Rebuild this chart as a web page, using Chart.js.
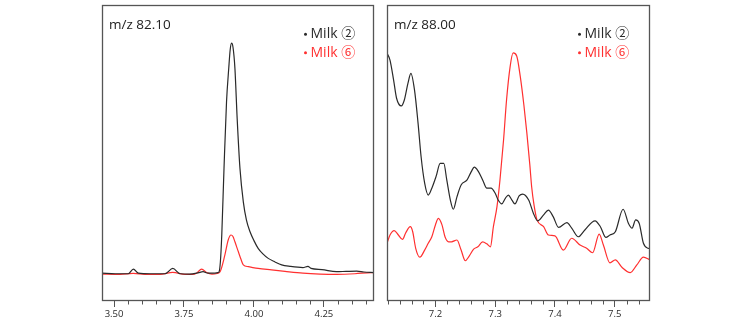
<!DOCTYPE html>
<html>
<head>
<meta charset="utf-8">
<script src="https://cdn.jsdelivr.net/npm/chart.js@4.4.1/dist/chart.umd.min.js"></script>
<style>
  html, body { margin:0; padding:0; background:#fff; }
  body { width:754px; height:322px; position:relative; overflow:hidden; }
  canvas { position:absolute; }
</style>
</head>
<body>
<canvas id="left" width="274" height="318" style="left:101px;top:4px;"></canvas>
<canvas id="right" width="265" height="318" style="left:386px;top:4px;"></canvas>
<script>
// ---------- DATA ----------
const leftTitle = "m/z 82.10";
const rightTitle = "m/z 88.00";
const seriesNames = ["Milk ②", "Milk ⑥"];

// Left panel (retention time, relative intensity)
const leftBlackX = [3.457,3.504,3.551,3.569,3.587,3.629,3.682,3.710,3.736,3.771,3.800,3.818,3.836,3.857,3.871,3.875,3.880,3.885,3.893,3.902,3.910,3.915,3.920,3.925,3.932,3.940,3.950,3.962,3.973,3.986,4.000,4.015,4.032,4.051,4.075,4.099,4.129,4.175,4.193,4.204,4.243,4.295,4.329,4.367,4.393,4.429];
const leftBlackY = [9.4,9.2,9.2,10.8,9.4,9.2,9.2,11.0,9.2,9.1,9.5,9.9,9.4,9.4,9.6,9.8,13.2,22.3,44.8,67.3,78.7,84.8,87.1,85.8,78.6,61.7,44.8,33.5,27.4,23.4,20.4,17.8,15.9,14.4,13.2,12.2,11.7,11.3,11.7,11.0,10.6,9.9,10.0,10.1,9.8,9.6];
const leftRedX = [3.457,3.521,3.568,3.611,3.664,3.710,3.754,3.779,3.795,3.813,3.831,3.850,3.868,3.879,3.896,3.908,3.918,3.925,3.932,3.944,3.954,3.962,3.980,3.996,4.015,4.063,4.111,4.175,4.236,4.295,4.361,4.420,4.429];
const leftRedY = [9.1,9.0,9.3,9.0,9.0,9.7,9.0,9.0,9.4,10.8,9.6,9.1,9.3,9.9,15.5,20.6,22.3,21.8,20.0,16.7,14.0,12.2,11.6,11.3,11.0,10.5,10.0,9.4,9.1,9.0,9.2,9.6,9.6];

// Right panel
const rightBlackX = [7.119,7.124,7.130,7.135,7.143,7.148,7.154,7.159,7.165,7.171,7.176,7.182,7.188,7.194,7.201,7.208,7.214,7.219,7.225,7.230,7.236,7.243,7.253,7.260,7.265,7.272,7.279,7.286,7.293,7.300,7.305,7.311,7.317,7.322,7.328,7.333,7.340,7.346,7.356,7.364,7.371,7.381,7.389,7.397,7.406,7.420,7.428,7.439,7.450,7.467,7.476,7.485,7.492,7.501,7.514,7.523,7.529,7.535,7.541,7.548,7.556,7.559];
const rightBlackY = [83.7,81.4,74.7,68.5,65.9,67.9,73.5,76.9,71.3,60.0,48.8,39.8,35.8,38.1,42.0,46.5,46.5,40.9,34.1,31.0,35.2,39.2,40.9,43.7,45.2,43.7,40.9,38.1,38.1,36.4,34.1,32.8,34.7,35.8,34.1,32.8,35.5,36.1,34.1,29.6,27.1,29.1,30.7,28.5,24.9,26.5,24.6,21.7,24.0,27.1,25.1,21.5,22.3,23.4,31.0,26.2,24.6,27.4,26.2,19.5,17.8,17.7];
const rightRedX = [7.119,7.124,7.131,7.138,7.145,7.150,7.158,7.162,7.167,7.174,7.182,7.188,7.194,7.200,7.205,7.211,7.216,7.222,7.227,7.236,7.243,7.250,7.256,7.264,7.271,7.279,7.286,7.292,7.297,7.303,7.308,7.314,7.319,7.325,7.330,7.336,7.342,7.348,7.353,7.358,7.361,7.365,7.370,7.381,7.389,7.400,7.414,7.428,7.442,7.453,7.463,7.474,7.481,7.492,7.501,7.512,7.526,7.537,7.548,7.559];
const rightRedY = [19.5,22.3,23.8,22.3,20.8,22.9,25.1,23.4,17.8,14.8,17.2,19.5,21.7,25.7,27.9,25.7,21.7,20.0,20.0,20.6,17.2,13.6,15.0,17.5,18.3,20.0,19.3,18.3,25.1,31.9,40.9,54.4,67.9,79.2,83.8,82.8,75.8,66.2,56.7,45.9,38.6,32.4,27.4,25.1,22.3,22.0,17.2,21.2,18.9,17.8,16.3,22.6,18.9,12.9,13.9,11.4,9.6,12.2,14.8,13.9];

// Axis settings
const leftRange = [3.457, 4.429];
const rightRange = [7.119, 7.559];
const leftMajorStep = 0.25, leftMinorStep = 0.05, leftDecimals = 2;
const rightMajorStep = 0.1, rightMinorStep = 0.02, rightDecimals = 1;

// ---------- STYLE ----------
const BLACK = '#2a2a2a';
const RED = '#ff3030';
const AXIS = '#555';

function pts(xs, ys) { return xs.map((x, i) => ({ x: x, y: ys[i] })); }

const decoPlugin = {
  id: 'panelDeco',
  afterDraw(chart, args, opts) {
    const ctx = chart.ctx;
    const a = chart.chartArea;
    const sx = chart.scales.x;
    ctx.save();
    // frame
    ctx.strokeStyle = AXIS;
    ctx.lineWidth = 1.3;
    ctx.strokeRect(Math.round(a.left) + 0.5, Math.round(a.top) + 0.5,
                   Math.round(a.right - a.left) - 1, Math.round(a.bottom - a.top) - 1);
    // minor ticks
    ctx.lineWidth = 1;
    ctx.beginPath();
    const k0 = Math.ceil(sx.min / opts.minor - 1e-6), k1 = Math.floor(sx.max / opts.minor + 1e-6);
    for (let k = k0; k <= k1; k++) {
      const v = k * opts.minor;
      const r = v / opts.major;
      if (Math.abs(r - Math.round(r)) < 1e-6) continue;
      const px = Math.round(sx.getPixelForValue(v)) + 0.5;
      ctx.moveTo(px, a.bottom);
      ctx.lineTo(px, a.bottom + 3.5);
    }
    ctx.stroke();
    // title
    ctx.fillStyle = '#222';
    ctx.font = "13.5px 'Open Sans', 'Noto Sans', sans-serif";
    ctx.textBaseline = 'alphabetic';
    ctx.textAlign = 'left';
    ctx.fillText(opts.title, a.left + 7, a.top + 24.3);
    // legend
    const colors = [BLACK, RED];
    for (let i = 0; i < opts.names.length; i++) {
      const by = a.top + 33.3 + i * 18.4;
      const bx = a.right - opts.legendFromRight;
      ctx.fillStyle = colors[i];
      ctx.beginPath();
      ctx.arc(bx, by - 4, 1.5, 0, Math.PI * 2);
      ctx.fill();
      ctx.font = "14px 'Open Sans', 'Noto Sans CJK SC', sans-serif";
      ctx.fillText(opts.names[i], bx + 5, by);
    }
    ctx.restore();
  }
};

function makeChart(id, datasets, range, major, minor, decimals, title, legendFromRight) {
  return new Chart(document.getElementById(id), {
    type: 'line',
    data: { datasets: datasets },
    options: {
      responsive: false,
      animation: false,
      devicePixelRatio: 1,
      layout: { padding: { left: 1, right: 1, top: 1, bottom: 0 } },
      elements: { point: { radius: 0 }, line: { borderWidth: 1.2, cubicInterpolationMode: 'monotone' } },
      plugins: {
        legend: { display: false },
        tooltip: { enabled: false },
        panelDeco: { title: title, names: seriesNames, minor: minor, major: major, legendFromRight: legendFromRight }
      },
      scales: {
        x: {
          type: 'linear',
          min: range[0], max: range[1],
          afterFit(axis) { axis.height = 21; },
          border: { display: false },
          grid: { display: true, drawOnChartArea: false, drawTicks: true, tickLength: 6, color: AXIS, lineWidth: 1 },
          ticks: {
            stepSize: major, includeBounds: false, autoSkip: false, maxRotation: 0, minRotation: 0,
            padding: 2, color: '#2a2a2a',
            font: { family: "'Open Sans', 'Noto Sans', sans-serif", size: 9.5 },
            callback: (v) => Number(v).toFixed(decimals)
          }
        },
        y: { display: false, min: 0, max: 100 }
      }
    },
    plugins: [decoPlugin]
  });
}

makeChart('left', [
  { label: seriesNames[0], data: pts(leftBlackX, leftBlackY), borderColor: BLACK },
  { label: seriesNames[1], data: pts(leftRedX, leftRedY), borderColor: RED }
], leftRange, leftMajorStep, leftMinorStep, leftDecimals, leftTitle, 68.5);

makeChart('right', [
  { label: seriesNames[0], data: pts(rightBlackX, rightBlackY), borderColor: BLACK },
  { label: seriesNames[1], data: pts(rightRedX, rightRedY), borderColor: RED }
], rightRange, rightMajorStep, rightMinorStep, rightDecimals, rightTitle, 70.5);
</script>
</body>
</html>
